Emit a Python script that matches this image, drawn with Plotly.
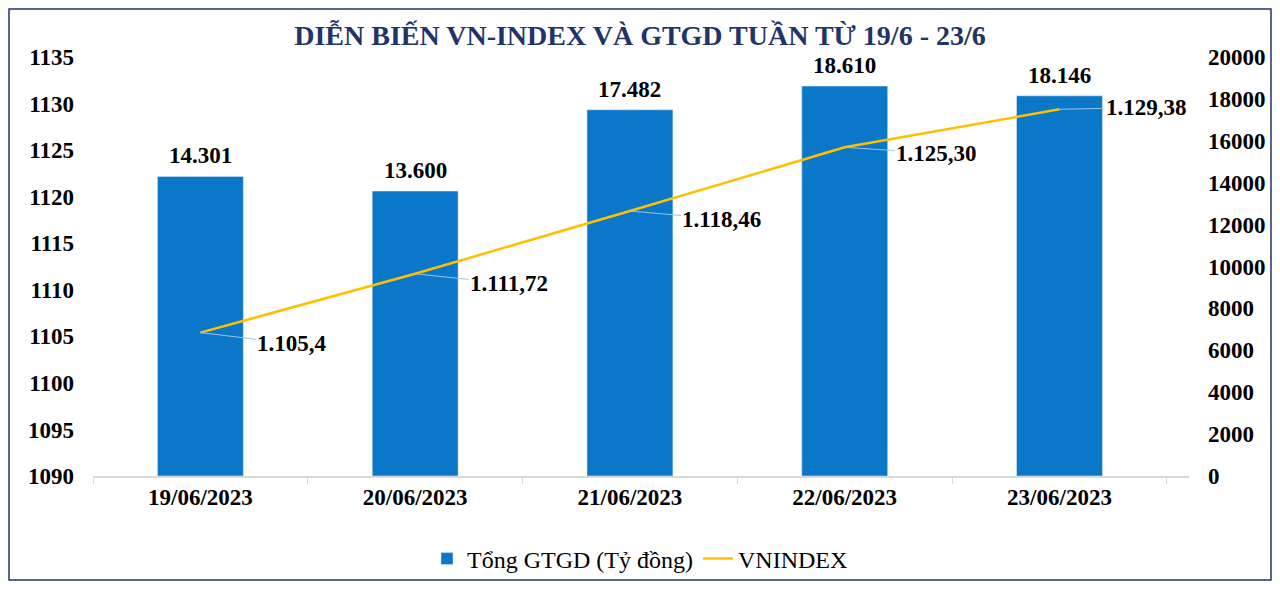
import plotly.graph_objects as go

dates = ["19/06/2023", "20/06/2023", "21/06/2023", "22/06/2023", "23/06/2023"]
gtgd = [14301, 13600, 17482, 18610, 18146]
vnindex = [1105.40, 1111.72, 1118.46, 1125.30, 1129.38]
vn_labels = ["1.105,4", "1.111,72", "1.118,46", "1.125,30", "1.129,38"]
gtgd_labels = [f"{v:,}".replace(",", ".") for v in gtgd]

FONT = "Liberation Serif, Times New Roman, serif"
NAVY = "#1F3468"
BAR = "#0B77C9"
GOLD = "#FFC000"

# label offsets (pixels) for the VN-Index data labels
lab_dx = [92, 94, 92, 92, 87]
lab_dy = [11, 10, 8, 6, -2]

FW, FH = 1264, 573          # figure size (page body adds an 8px margin)
L, R, T, B = 85, 1181, 49, 468
W, H = R - L, B - T

fig = go.Figure()
fig.add_trace(go.Bar(
    x=dates, y=gtgd, name="Tổng GTGD (Tỷ đồng)", marker_color=BAR,
    yaxis="y",
))
fig.add_trace(go.Scatter(
    x=dates, y=vnindex, name="VNINDEX", mode="lines",
    line=dict(color=GOLD, width=2.5), yaxis="y2",
))

for d, v, lab in zip(dates, gtgd, gtgd_labels):
    fig.add_annotation(
        x=d, y=v, xref="x", yref="y", text=lab, showarrow=False,
        yanchor="bottom", yshift=6,
        font=dict(family=FONT, size=23, color="black", weight=700),
    )

for d, v, lab, dx, dy in zip(dates, vnindex, vn_labels, lab_dx, lab_dy):
    fig.add_annotation(
        x=d, y=v, xref="x", yref="y2", text=lab, showarrow=True,
        ax=dx, ay=dy, arrowhead=0, arrowwidth=1, arrowcolor="#9DC3E6",
        standoff=0, startstandoff=0,
        font=dict(family=FONT, size=23, color="black", weight=700),
    )

fig.add_shape(type="rect", xref="paper", yref="paper",
              x0=(1 - L) / W, x1=(FW - 1 - L) / W,
              y0=(B - (FH - 1)) / H, y1=(B - 1) / H,
              line=dict(color=NAVY, width=1.5), fillcolor="rgba(0,0,0,0)", layer="below")

fig.update_layout(
    width=FW, height=FH,
    margin=dict(l=L, r=FW - R, t=T, b=FH - B, autoexpand=False),
    paper_bgcolor="white", plot_bgcolor="white",
    font=dict(family=FONT, color="black"),
    title=dict(text="DIỄN BIẾN VN-INDEX VÀ GTGD TUẦN TỪ 19/6 - 23/6",
               x=0.5, xref="container", xanchor="center", y=1 - 27 / FH, yanchor="middle",
               font=dict(family=FONT, size=28, color=NAVY, weight=700)),
    bargap=0.6,
    showlegend=True,
    legend=dict(orientation="h", xref="container", yref="container", x=0.5, xanchor="center",
                y=1 - 551 / FH, yanchor="middle",
                font=dict(family=FONT, size=24, color="black"), itemwidth=30,
                bgcolor="rgba(0,0,0,0)"),
    xaxis=dict(type="category", showline=True, linecolor="#D9D9D9", linewidth=1.5,
               ticks="outside", tickson="boundaries", ticklen=6, tickcolor="#D9D9D9",
               tickfont=dict(family=FONT, size=23, color="black", weight=700),
               showgrid=False, zeroline=False, automargin=False),
    yaxis=dict(side="right", range=[0, 20000], dtick=2000, tickformat="d",
               showgrid=False, zeroline=False, automargin=False,
               showline=False, tickfont=dict(family=FONT, size=23, color="black", weight=700),
               ticklabelstandoff=18),
    yaxis2=dict(side="left", overlaying="y", range=[1090, 1135], dtick=5, showgrid=False,
                zeroline=False, showline=False, automargin=False,
                tickfont=dict(family=FONT, size=23, color="black", weight=700),
                ticklabelstandoff=18),
)

fig.write_html("out.html")
